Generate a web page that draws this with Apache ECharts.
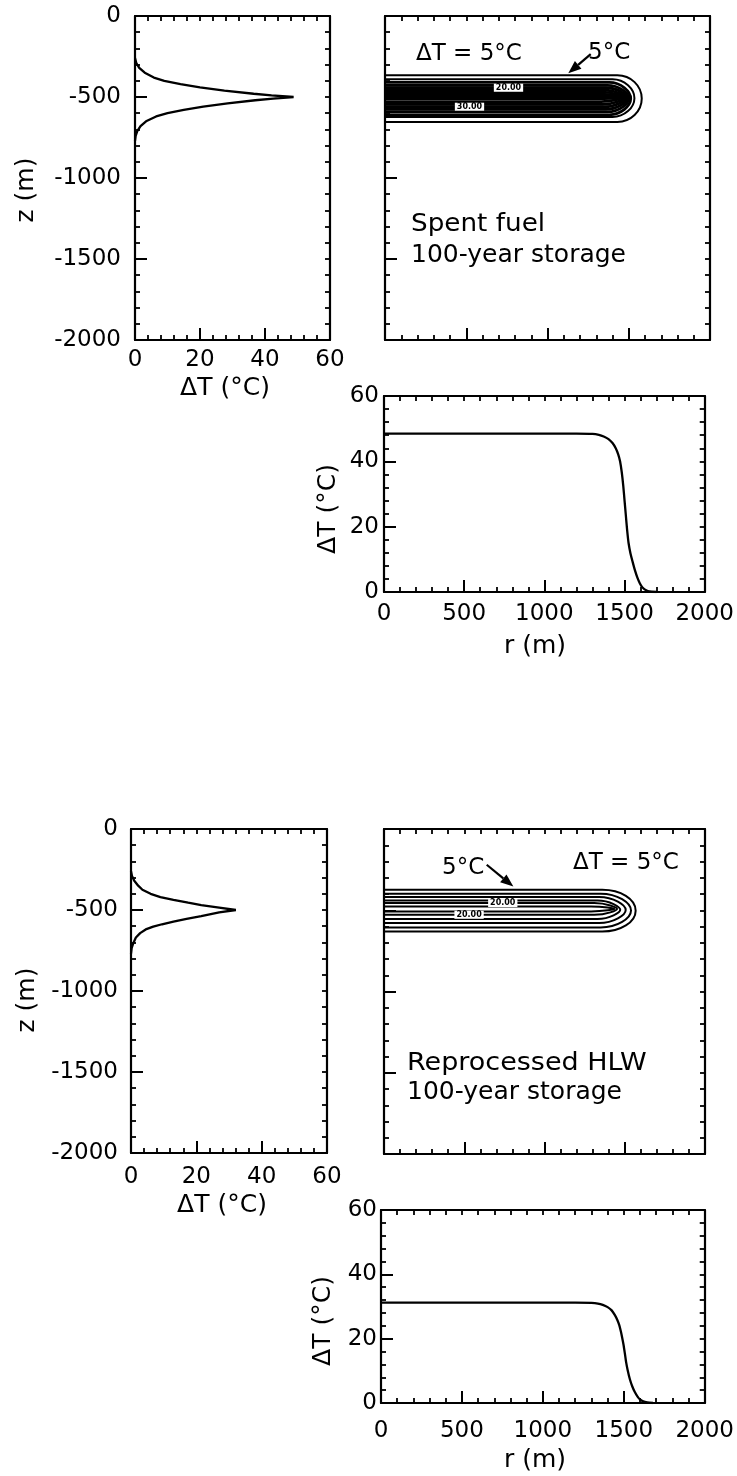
<!DOCTYPE html>
<html>
<head>
<meta charset="utf-8">
<script src="https://cdn.jsdelivr.net/npm/echarts@6/dist/echarts.min.js"></script>
<style>
  html, body { margin: 0; padding: 0; background: #fff; }
  #chart { width: 737px; height: 1476px; }
</style>
</head>
<body>
<div id="chart"></div>
<script>
// ---- Vertical temperature-rise profiles along the axis: [dT (degC), z (m)] ----
const spentDepthProfile = [
  [0, -260], [0.4, -290], [1.3, -320], [3.0, -350], [5.8, -380], [9.0, -400],
  [14.0, -420], [20.0, -440], [27.5, -460], [36.5, -480], [42.0, -490], [48.8, -500],
  [42.5, -510], [37.0, -520], [28.5, -540], [21.0, -560], [15.0, -580], [10.0, -600],
  [6.5, -620], [3.4, -650], [1.7, -680], [0.7, -710], [0.2, -740], [0, -770]
];
const hlwDepthProfile = [
  [0, -260], [0.3, -290], [1.0, -320], [2.2, -350], [3.5, -375], [6.0, -400],
  [9.0, -420], [13.0, -437], [17.5, -455], [21.5, -470], [27.0, -485], [32.1, -500],
  [27.0, -515], [21.5, -538], [17.0, -555], [13.0, -572], [9.5, -588], [6.8, -603],
  [4.5, -620], [2.8, -643], [1.5, -670], [0.7, -705], [0.2, -735], [0, -770]
];

// ---- Radial profiles at repository depth: [r (m), dT (degC)] ----
const spentRadialProfile = [
  [0, 48.5], [1200, 48.5], [1300, 48.4], [1340, 48.1], [1370, 47.6], [1400, 46.8],
  [1425, 45.6], [1445, 44.0], [1460, 42.2], [1472, 40.0], [1483, 36.5], [1492, 32.5],
  [1500, 28.0], [1508, 23.5], [1516, 19.0], [1525, 15.0], [1537, 11.8], [1550, 9.3],
  [1565, 6.6], [1580, 4.4], [1595, 2.7], [1610, 1.5], [1625, 0.8], [1645, 0.3],
  [1670, 0.08], [1700, 0]
];
const hlwRadialProfile = [
  [0, 31.2], [1200, 31.2], [1300, 31.1], [1340, 30.9], [1370, 30.5], [1400, 29.8],
  [1425, 28.8], [1445, 27.3], [1460, 25.8], [1472, 24.2], [1482, 22.2], [1490, 20.3],
  [1498, 18.2], [1506, 15.6], [1514, 12.8], [1524, 10.2], [1538, 7.3], [1552, 5.2],
  [1568, 3.4], [1585, 2.0], [1600, 1.1], [1620, 0.5], [1645, 0.2], [1680, 0]
];

// ---- Isotherms (5 degC spacing): [level, z top, z bottom, r where tip bends, r at tip] ----
const spentContours = [
  [5, -366, -654, 1430, 1580],
  [10, -391, -623, 1400, 1535],
  [15, -410, -610, 1380, 1512],
  [20, -428, -592, 1370, 1500],
  [25, -443, -576, 1360, 1490],
  [30, -457, -560, 1350, 1480],
  [35, -470, -545, 1340, 1470],
  [40, -482, -528, 1330, 1458],
  [45, -493, -510, 1320, 1440]
];
const hlwContours = [
  [5, -374, -631, 1360, 1568],
  [10, -398, -606, 1350, 1539],
  [15, -419, -579, 1340, 1506],
  [20, -440, -554, 1330, 1472],
  [25, -456, -528, 1310, 1452],
  [30, -477, -507, 1290, 1436]
];

// ---- Tick values and their labels ----
const depthTicks = [0, -500, -1000, -1500, -2000];
const depthLabels = ['0', '-500', '-1000', '-1500', '-2000'];
const tempTicks = [0, 20, 40, 60];
const tempLabels = ['0', '20', '40', '60'];
const radiusTicks = [0, 500, 1000, 1500, 2000];
const radiusLabels = ['0', '500', '1000', '1500', '2000'];

const INK = '#000';
const FONT = 'DejaVu Sans';
const TICK_FS = 23;

function labelFormatter(ticks, labels) {
  return function (v) {
    const i = ticks.indexOf(v);
    return i < 0 ? '' : labels[i];
  };
}

// Four framed axes per panel: bottom/left carry labels with long major ticks,
// top/right carry only short ticks at the minor spacing.
const xAxes = [];
const yAxes = [];
function addPanelAxes(gridIndex, xs, ys) {
  const base = {
    type: 'value', gridIndex: gridIndex,
    splitLine: { show: false }, minorSplitLine: { show: false }
  };
  const line = { show: true, onZero: false, lineStyle: { color: INK, width: 2.2 } };
  const labelStyle = (spec) => ({
    show: !!spec.labels, margin: spec.margin || 8, color: INK,
    fontFamily: FONT, fontSize: TICK_FS,
    showMinLabel: true, showMaxLabel: true,
    formatter: spec.labels ? labelFormatter(spec.ticks, spec.labels) : undefined
  });
  xAxes.push(Object.assign({}, base, {
    position: 'bottom', min: xs.min, max: xs.max, interval: xs.major,
    axisLine: line,
    axisTick: { show: true, inside: true, length: 12, lineStyle: { color: INK, width: 2 } },
    minorTick: { show: true, splitNumber: xs.major / xs.minor, length: 5, lineStyle: { color: INK, width: 1.8 } },
    axisLabel: labelStyle(xs)
  }));
  xAxes.push(Object.assign({}, base, {
    position: 'top', min: xs.min, max: xs.max, interval: xs.minor,
    axisLine: line,
    axisTick: { show: true, inside: true, length: 5, lineStyle: { color: INK, width: 1.8 } },
    axisLabel: { show: false }
  }));
  yAxes.push(Object.assign({}, base, {
    position: 'left', min: ys.min, max: ys.max, interval: ys.major,
    axisLine: line,
    axisTick: { show: true, inside: true, length: 12, lineStyle: { color: INK, width: 2 } },
    minorTick: { show: true, splitNumber: ys.major / ys.minor, length: 5, lineStyle: { color: INK, width: 1.8 } },
    axisLabel: labelStyle(ys)
  }));
  yAxes.push(Object.assign({}, base, {
    position: 'right', min: ys.min, max: ys.max, interval: ys.minor,
    axisLine: line,
    axisTick: { show: true, inside: true, length: 5, lineStyle: { color: INK, width: 1.8 } },
    axisLabel: { show: false }
  }));
}

const grids = [
  { left: 135, top: 16, width: 195, height: 324 },   // spent fuel: dT vs z
  { left: 385, top: 16, width: 325, height: 324 },   // spent fuel: isotherms
  { left: 384, top: 396, width: 324, height: 196 },  // spent fuel: dT vs r
  { left: 131, top: 829, width: 196, height: 324 },  // HLW: dT vs z
  { left: 384, top: 829, width: 321, height: 325 },  // HLW: isotherms
  { left: 381, top: 1210, width: 324, height: 193 }  // HLW: dT vs r
];

const tempX = (margin) => ({ min: 0, max: 60, major: 20, minor: 4, ticks: tempTicks, labels: tempLabels, margin });
const tempY = (margin) => ({ min: 0, max: 60, major: 20, minor: 4, ticks: tempTicks, labels: tempLabels, margin });
const depthY = (labelled, margin) => ({ min: -2000, max: 0, major: 500, minor: 100, ticks: depthTicks, labels: labelled ? depthLabels : null, margin });
const radiusX = (labelled, margin) => ({ min: 0, max: 2000, major: 500, minor: 100, ticks: radiusTicks, labels: labelled ? radiusLabels : null, margin });

addPanelAxes(0, tempX(9), depthY(true, 14));
addPanelAxes(1, radiusX(false), depthY(false));
addPanelAxes(2, radiusX(true, 11), tempY(5));
addPanelAxes(3, tempX(13), depthY(true, 13));
addPanelAxes(4, radiusX(false), depthY(false));
addPanelAxes(5, radiusX(true, 17), tempY(4));

function curve(gridIndex, data, smooth) {
  return {
    type: 'line', xAxisIndex: 2 * gridIndex, yAxisIndex: 2 * gridIndex,
    data: data, showSymbol: false, symbol: 'none',
    smooth: smooth ? 0.2 : false,
    lineStyle: { color: INK, width: 2.3 }, silent: true, z: 3
  };
}

// Each isotherm: flat top and bottom from the axis out to the bend, closing in a tip.
// The innermost, tightly packed isotherms are drawn heavier; optional "20.00" style
// level tags sit on a white patch along an edge.
function isotherms(gridIndex, rows, outerWidth, innerWidth, tags) {
  const n = rows.length;
  return {
    type: 'custom', xAxisIndex: 2 * gridIndex, yAxisIndex: 2 * gridIndex,
    coordinateSystem: 'cartesian2d', silent: true, z: 3,
    data: rows,
    renderItem: function (params, api) {
      const level = api.value(0);
      const zTop = api.value(1), zBot = api.value(2), rBend = api.value(3), rTip = api.value(4);
      const zMid = (zTop + zBot) / 2;
      const a = api.coord([0, zTop]);
      const b = api.coord([rBend, zTop]);
      const t = api.coord([rTip, zMid]);
      const c = api.coord([rBend, zBot]);
      const d = api.coord([0, zBot]);
      const k = 0.55 - 0.42 * (params.dataIndex / Math.max(1, n - 1));
      const kx = 0.55;
      const p = [
        'M', a[0], a[1], 'L', b[0], b[1],
        'C', b[0] + kx * (t[0] - b[0]), b[1], t[0], t[1] - k * (t[1] - b[1]), t[0], t[1],
        'C', t[0], t[1] + k * (c[1] - t[1]), c[0] + kx * (t[0] - c[0]), c[1], c[0], c[1],
        'L', d[0], d[1]
      ].join(' ');
      const children = [{
        type: 'path',
        shape: { pathData: p },
        style: { fill: 'none', stroke: INK, lineWidth: params.dataIndex < 2 ? outerWidth : innerWidth }
      }];
      (tags || []).forEach(function (tag) {
        if (tag.level !== level) return;
        const pos = api.coord([tag.r, tag.edge === 'top' ? zTop : zBot]);
        children.push({
          type: 'text', x: pos[0], y: pos[1], z2: 5,
          style: {
            text: tag.text, fill: INK, font: 'bold 8px "' + FONT + '"',
            align: 'center', verticalAlign: 'middle',
            textAlign: 'center', textVerticalAlign: 'middle',
            backgroundColor: '#fff', padding: [0, 2]
          }
        });
      });
      return { type: 'group', children: children };
    }
  };
}

// Leader arrow for the outermost isotherm label: [r start, z start, r tip, z tip]
function arrow(gridIndex, seg) {
  return {
    type: 'custom', xAxisIndex: 2 * gridIndex, yAxisIndex: 2 * gridIndex,
    coordinateSystem: 'cartesian2d', silent: true, z: 4,
    data: [seg],
    renderItem: function (params, api) {
      const p0 = api.coord([api.value(0), api.value(1)]);
      const p1 = api.coord([api.value(2), api.value(3)]);
      const dx = p1[0] - p0[0], dy = p1[1] - p0[1];
      const len = Math.sqrt(dx * dx + dy * dy);
      const ux = dx / len, uy = dy / len;
      const headLen = 13, headHalf = 5;
      const bx = p1[0] - ux * headLen, by = p1[1] - uy * headLen;
      return {
        type: 'group',
        children: [
          { type: 'line', shape: { x1: p0[0], y1: p0[1], x2: bx, y2: by },
            style: { stroke: INK, lineWidth: 2.2 } },
          { type: 'polygon',
            shape: { points: [[p1[0], p1[1]], [bx - uy * headHalf, by + ux * headHalf], [bx + uy * headHalf, by - ux * headHalf]] },
            style: { fill: INK } }
        ]
      };
    }
  };
}

function text(str, x, y, size, opts) {
  opts = opts || {};
  return {
    type: 'text', x: x, y: y, rotation: opts.rot || 0, scaleX: opts.sx || 1,
    silent: true, z: 10,
    style: {
      text: str, fill: INK, font: size + 'px "' + FONT + '"',
      align: opts.align || 'center', verticalAlign: 'middle',
      textAlign: opts.align || 'center', textVerticalAlign: 'middle'
    }
  };
}

const TITLE = 25;
const graphics = [
  // axis titles
  text('z (m)', 26, 190, TITLE, { rot: Math.PI / 2 }),
  text('\u0394T (\u00b0C)', 225, 388, TITLE),
  text('\u0394T (\u00b0C)', 328, 509, TITLE, { rot: Math.PI / 2 }),
  text('r (m)', 535, 646, TITLE),
  text('z (m)', 27, 1000, TITLE, { rot: Math.PI / 2 }),
  text('\u0394T (\u00b0C)', 222, 1205, TITLE),
  text('\u0394T (\u00b0C)', 323, 1321, TITLE, { rot: Math.PI / 2 }),
  text('r (m)', 535, 1460, TITLE),
  // isotherm panel notes
  text('\u0394T = 5\u00b0C', 416, 54, 23, { align: 'left' }),
  text('5\u00b0C', 588, 53, 23, { align: 'left' }),
  text('Spent fuel', 411, 224, 25, { align: 'left', sx: 1.05 }),
  text('100-year storage', 411, 255, 25, { align: 'left' }),
  text('5\u00b0C', 442, 868, 23, { align: 'left' }),
  text('\u0394T = 5\u00b0C', 573, 863, 23, { align: 'left' }),
  text('Reprocessed HLW', 407, 1063, 25, { align: 'left', sx: 1.08 }),
  text('100-year storage', 407, 1092, 25, { align: 'left' })
];

const spentTags = [
  { level: 25, edge: 'top', r: 760, text: '20.00' },
  { level: 30, edge: 'bottom', r: 520, text: '30.00' }
];
const hlwTags = [
  { level: 25, edge: 'top', r: 740, text: '20.00' },
  { level: 25, edge: 'bottom', r: 530, text: '20.00' }
];

const option = {
  animation: false,
  backgroundColor: '#fff',
  grid: grids.map(g => Object.assign({ containLabel: false }, g)),
  xAxis: xAxes,
  yAxis: yAxes,
  graphic: { elements: graphics },
  series: [
    curve(0, spentDepthProfile, false),
    isotherms(1, spentContours, 2, 2.8, spentTags),
    arrow(1, [1266, -235, 1128, -354]),
    curve(2, spentRadialProfile, true),
    curve(3, hlwDepthProfile, false),
    isotherms(4, hlwContours, 2, 2, hlwTags),
    arrow(4, [640, -220, 806, -354]),
    curve(5, hlwRadialProfile, true)
  ]
};

const chart = echarts.init(document.getElementById('chart'), null, { renderer: 'canvas' });
chart.setOption(option);
</script>
</body>
</html>
